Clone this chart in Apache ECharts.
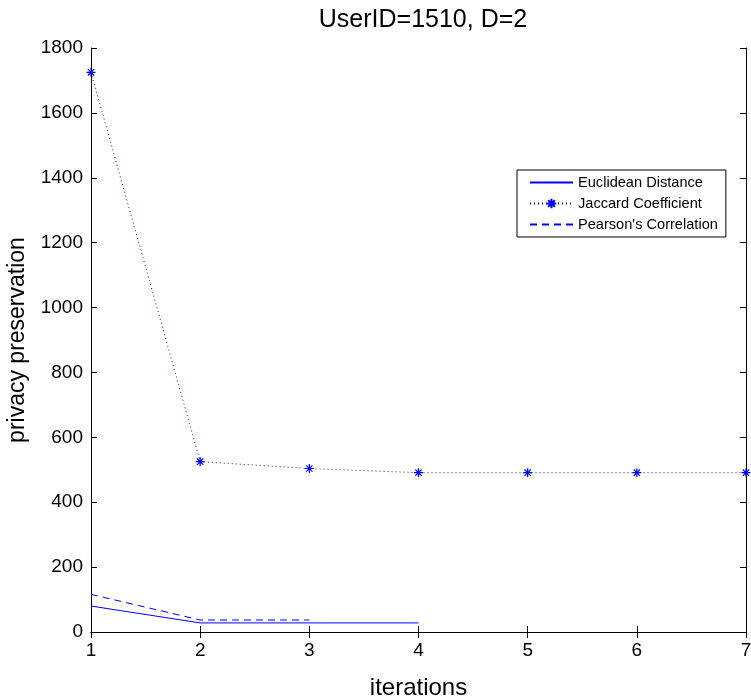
<!DOCTYPE html>
<html>
<head>
<meta charset="utf-8">
<script src="https://cdn.jsdelivr.net/npm/echarts@6/dist/echarts.min.js"></script>
<style>
  html, body { margin: 0; padding: 0; background: #fff; }
  #chart { width: 751px; height: 699px; }
</style>
</head>
<body>
<div id="chart"></div>
<script>
// values
const iterations = ["1", "2", "3", "4", "5", "6", "7"];
const euclidean = [80, 28, 28, 28];
const jaccard = [1725, 525, 504, 491, 491, 491, 491];
const pearson = [116, 37, 37];
const yTicks = { min: 0, max: 1800, interval: 200 };

const FONT = "Liberation Sans";
const BLUE = "#0000ff";
// MATLAB-like asterisk marker
const STAR = "path://M5,0L5,10M0,5L10,5M1.5,1.5L8.5,8.5M1.5,8.5L8.5,1.5";

const chart = echarts.init(document.getElementById("chart"));

const boxAxis = {
  axisLine: { show: true, lineStyle: { color: "#000", width: 1 } },
  axisTick: { show: true, inside: true, length: 6, lineStyle: { color: "#000" } },
  splitLine: { show: false },
};

const option = {
  animation: false,
  backgroundColor: "#fff",
  title: {
    text: "UserID=1510, D=2",
    left: 418,
    top: 3,
    textAlign: "center",
    textStyle: { fontFamily: FONT, fontSize: 25, fontWeight: "normal", color: "#000" },
  },
  legend: {
    orient: "vertical",
    left: 517,
    top: 170,
    itemWidth: 43,
    itemHeight: 12,
    itemGap: 6,
    padding: [5, 8, 5, 12],
    borderColor: "#000",
    borderWidth: 1,
    borderRadius: 0,
    backgroundColor: "#fff",
    textStyle: { fontFamily: FONT, fontSize: 14.6, color: "#000" },
    data: [
      { name: "Euclidean Distance", itemStyle: { opacity: 0 } },
      { name: "Jaccard Coefficient" },
      { name: "Pearson's Correlation", itemStyle: { opacity: 0 } },
    ],
  },
  grid: { left: 91, right: 5, top: 48, bottom: 67, outerBoundsMode: "none" },
  xAxis: [
    {
      ...boxAxis,
      type: "category",
      data: iterations,
      boundaryGap: false,
      name: "iterations",
      nameLocation: "middle",
      nameGap: 44,
      nameTextStyle: { fontFamily: FONT, fontSize: 24, color: "#000" },
      axisLabel: { fontFamily: FONT, fontSize: 19, color: "#000", margin: 9 },
    },
    {
      ...boxAxis,
      type: "category",
      data: iterations,
      boundaryGap: false,
      position: "top",
      axisLabel: { show: false },
    },
  ],
  yAxis: [
    {
      ...boxAxis,
      type: "value",
      min: yTicks.min,
      max: yTicks.max,
      interval: yTicks.interval,
      name: "privacy preservation",
      nameLocation: "middle",
      nameGap: 62,
      nameTextStyle: { fontFamily: FONT, fontSize: 23, color: "#000" },
      axisLabel: { fontFamily: FONT, fontSize: 19, color: "#000", margin: 8, formatter: (v) => String(v) },
    },
    {
      ...boxAxis,
      type: "value",
      min: yTicks.min,
      max: yTicks.max,
      interval: yTicks.interval,
      position: "right",
      axisLabel: { show: false },
    },
  ],
  series: [
    {
      name: "Euclidean Distance",
      type: "line",
      data: euclidean,
      symbol: "none",
      lineStyle: { color: BLUE, width: 1 },
      itemStyle: { color: BLUE },
    },
    {
      name: "Jaccard Coefficient",
      type: "line",
      data: jaccard,
      symbol: STAR,
      symbolSize: 9,
      lineStyle: { color: BLUE, width: 1, type: [1, 3] },
      itemStyle: { color: "none", borderColor: BLUE, borderWidth: 1.2 },
    },
    {
      name: "Pearson's Correlation",
      type: "line",
      data: pearson,
      symbol: "none",
      lineStyle: { color: BLUE, width: 1, type: [7, 5] },
      itemStyle: { color: BLUE },
    },
  ],
};

chart.setOption(option);
</script>
</body>
</html>
